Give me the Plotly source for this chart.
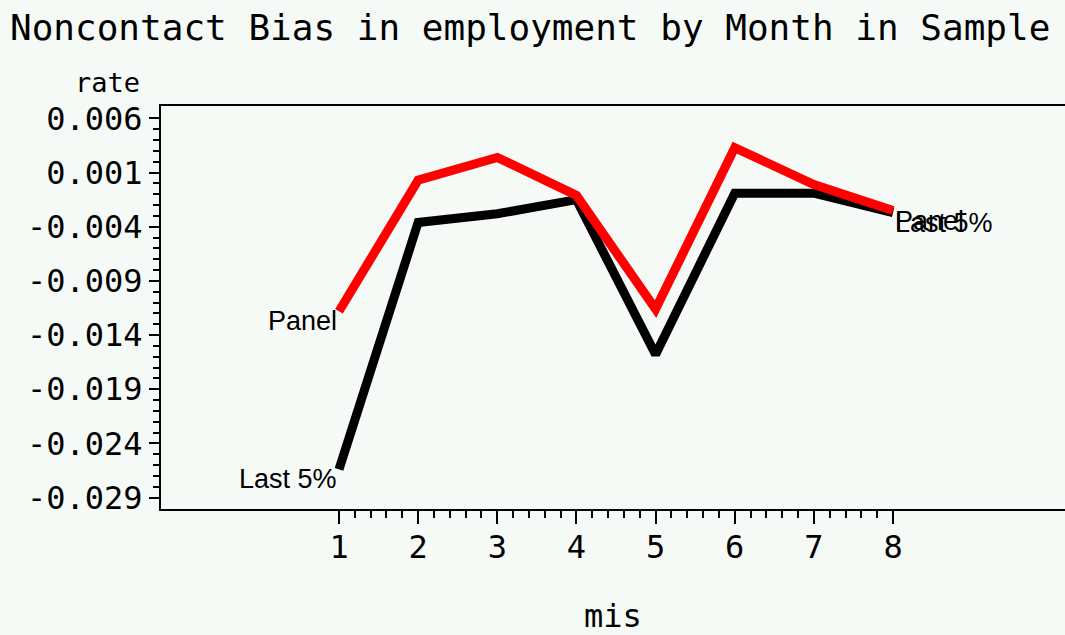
import plotly.graph_objects as go

# ---- data ----
months = [1, 2, 3, 4, 5, 6, 7, 8]
panel = [-0.0118, 0.0003, 0.0024, -0.0011, -0.0116, 0.0033, -0.0001, -0.0025]
last5 = [-0.0264, -0.0036, -0.0028, -0.0015, -0.0158, -0.0009, -0.0009, -0.0027]
series_names = ["Panel", "Last 5%"]
series_colors = ["#ff0000", "#000000"]

y_tickvals = [0.006, 0.001, -0.004, -0.009, -0.014, -0.019, -0.024, -0.029]
y_ticktext = ["0.006", "0.001", "-0.004", "-0.009", "-0.014", "-0.019", "-0.024", "-0.029"]
x_ticktext = ["1", "2", "3", "4", "5", "6", "7", "8"]

title_text = "Noncontact Bias in employment by Month in Sample"
y_title = "rate"
x_title = "mis"

BG = "#f6faf7"
MONO = "DejaVu Sans Mono"
SANS = "Liberation Sans, Arial, sans-serif"

fig = go.Figure()
# black first so red is drawn on top
fig.add_trace(go.Scatter(x=months, y=last5, mode="lines", name=series_names[1],
                         line=dict(color=series_colors[1], width=9)))
fig.add_trace(go.Scatter(x=months, y=panel, mode="lines", name=series_names[0],
                         line=dict(color=series_colors[0], width=9)))

# line-end labels
annots = []
for name, ys in zip(series_names, [panel, last5]):
    annots.append(dict(x=months[0], y=ys[0], xref="x", yref="y", text=name,
                       showarrow=False, xanchor="right", yanchor="middle",
                       yshift=-10, font=dict(family=SANS, size=27, color="black")))
    annots.append(dict(x=months[-1], y=ys[-1], xref="x", yref="y", text=name,
                       showarrow=False, xanchor="left", yanchor="middle",
                       yshift=-10, font=dict(family=SANS, size=27, color="black")))

annots.append(dict(x=8, y=28, xref="paper", yref="paper", text=title_text,
                   showarrow=False, xanchor="left", yanchor="middle",
                   font=dict(family=MONO, size=36, color="black")))
annots.append(dict(x=142, y=82, xref="paper", yref="paper", text=y_title,
                   showarrow=False, xanchor="right", yanchor="middle",
                   font=dict(family=MONO, size=27, color="black")))
annots.append(dict(x=0.5, y=0, xref="paper", yref="paper", text=x_title,
                   showarrow=False, xanchor="center", yanchor="top", yshift=-86,
                   font=dict(family=MONO, size=32, color="black")))

# convert pixel-positioned title annotations to paper coords
W, H = 1065, 635
L, R, T, B = 161, 0, 106, 126
pw, ph = W - L - R, H - T - B
for a in annots:
    if a["xref"] == "paper" and a["x"] > 1:
        a["x"] = (a["x"] - L) / pw
        a["y"] = 1 - (a["y"] - T) / ph

x_minor = [m + k / 5 for m in months[:-1] for k in range(1, 5)]
y_minor = [round(-0.029 + 0.001 * i, 3) for i in range(36)]
y_minor = [v for v in y_minor if v not in y_tickvals]

fig.update_layout(
    width=W, height=H,
    margin=dict(l=L, r=R, t=T, b=B),
    paper_bgcolor=BG, plot_bgcolor=BG,
    showlegend=False,
    annotations=annots,
    xaxis=dict(range=[-1.249, 10.173], tickmode="array", tickvals=months,
               ticktext=x_ticktext, ticks="outside", ticklen=13, tickwidth=2,
               tickcolor="black", showgrid=False, zeroline=False,
               showline=True, linewidth=2, linecolor="black", mirror=True,
               ticklabelstandoff=-4,
               tickfont=dict(family=MONO, size=32, color="black"),
               minor=dict(tickmode="array", tickvals=x_minor, ticks="outside",
                          ticklen=7, tickwidth=2, tickcolor="black", showgrid=False)),
    yaxis=dict(range=[-0.03006, 0.00715], tickmode="array", tickvals=y_tickvals,
               ticktext=y_ticktext, ticks="outside", ticklen=10, tickwidth=2,
               tickcolor="black", showgrid=False, zeroline=False,
               showline=True, linewidth=2, linecolor="black", mirror=False,
               tickfont=dict(family=MONO, size=32, color="black"),
               minor=dict(tickmode="array", tickvals=y_minor, ticks="outside",
                          ticklen=6, tickwidth=2, tickcolor="black", showgrid=False)),
)

fig.write_html("out.html", config={"displayModeBar": False},
               post_script="document.body.style.margin='0';document.body.style.background='%s';" % BG)
